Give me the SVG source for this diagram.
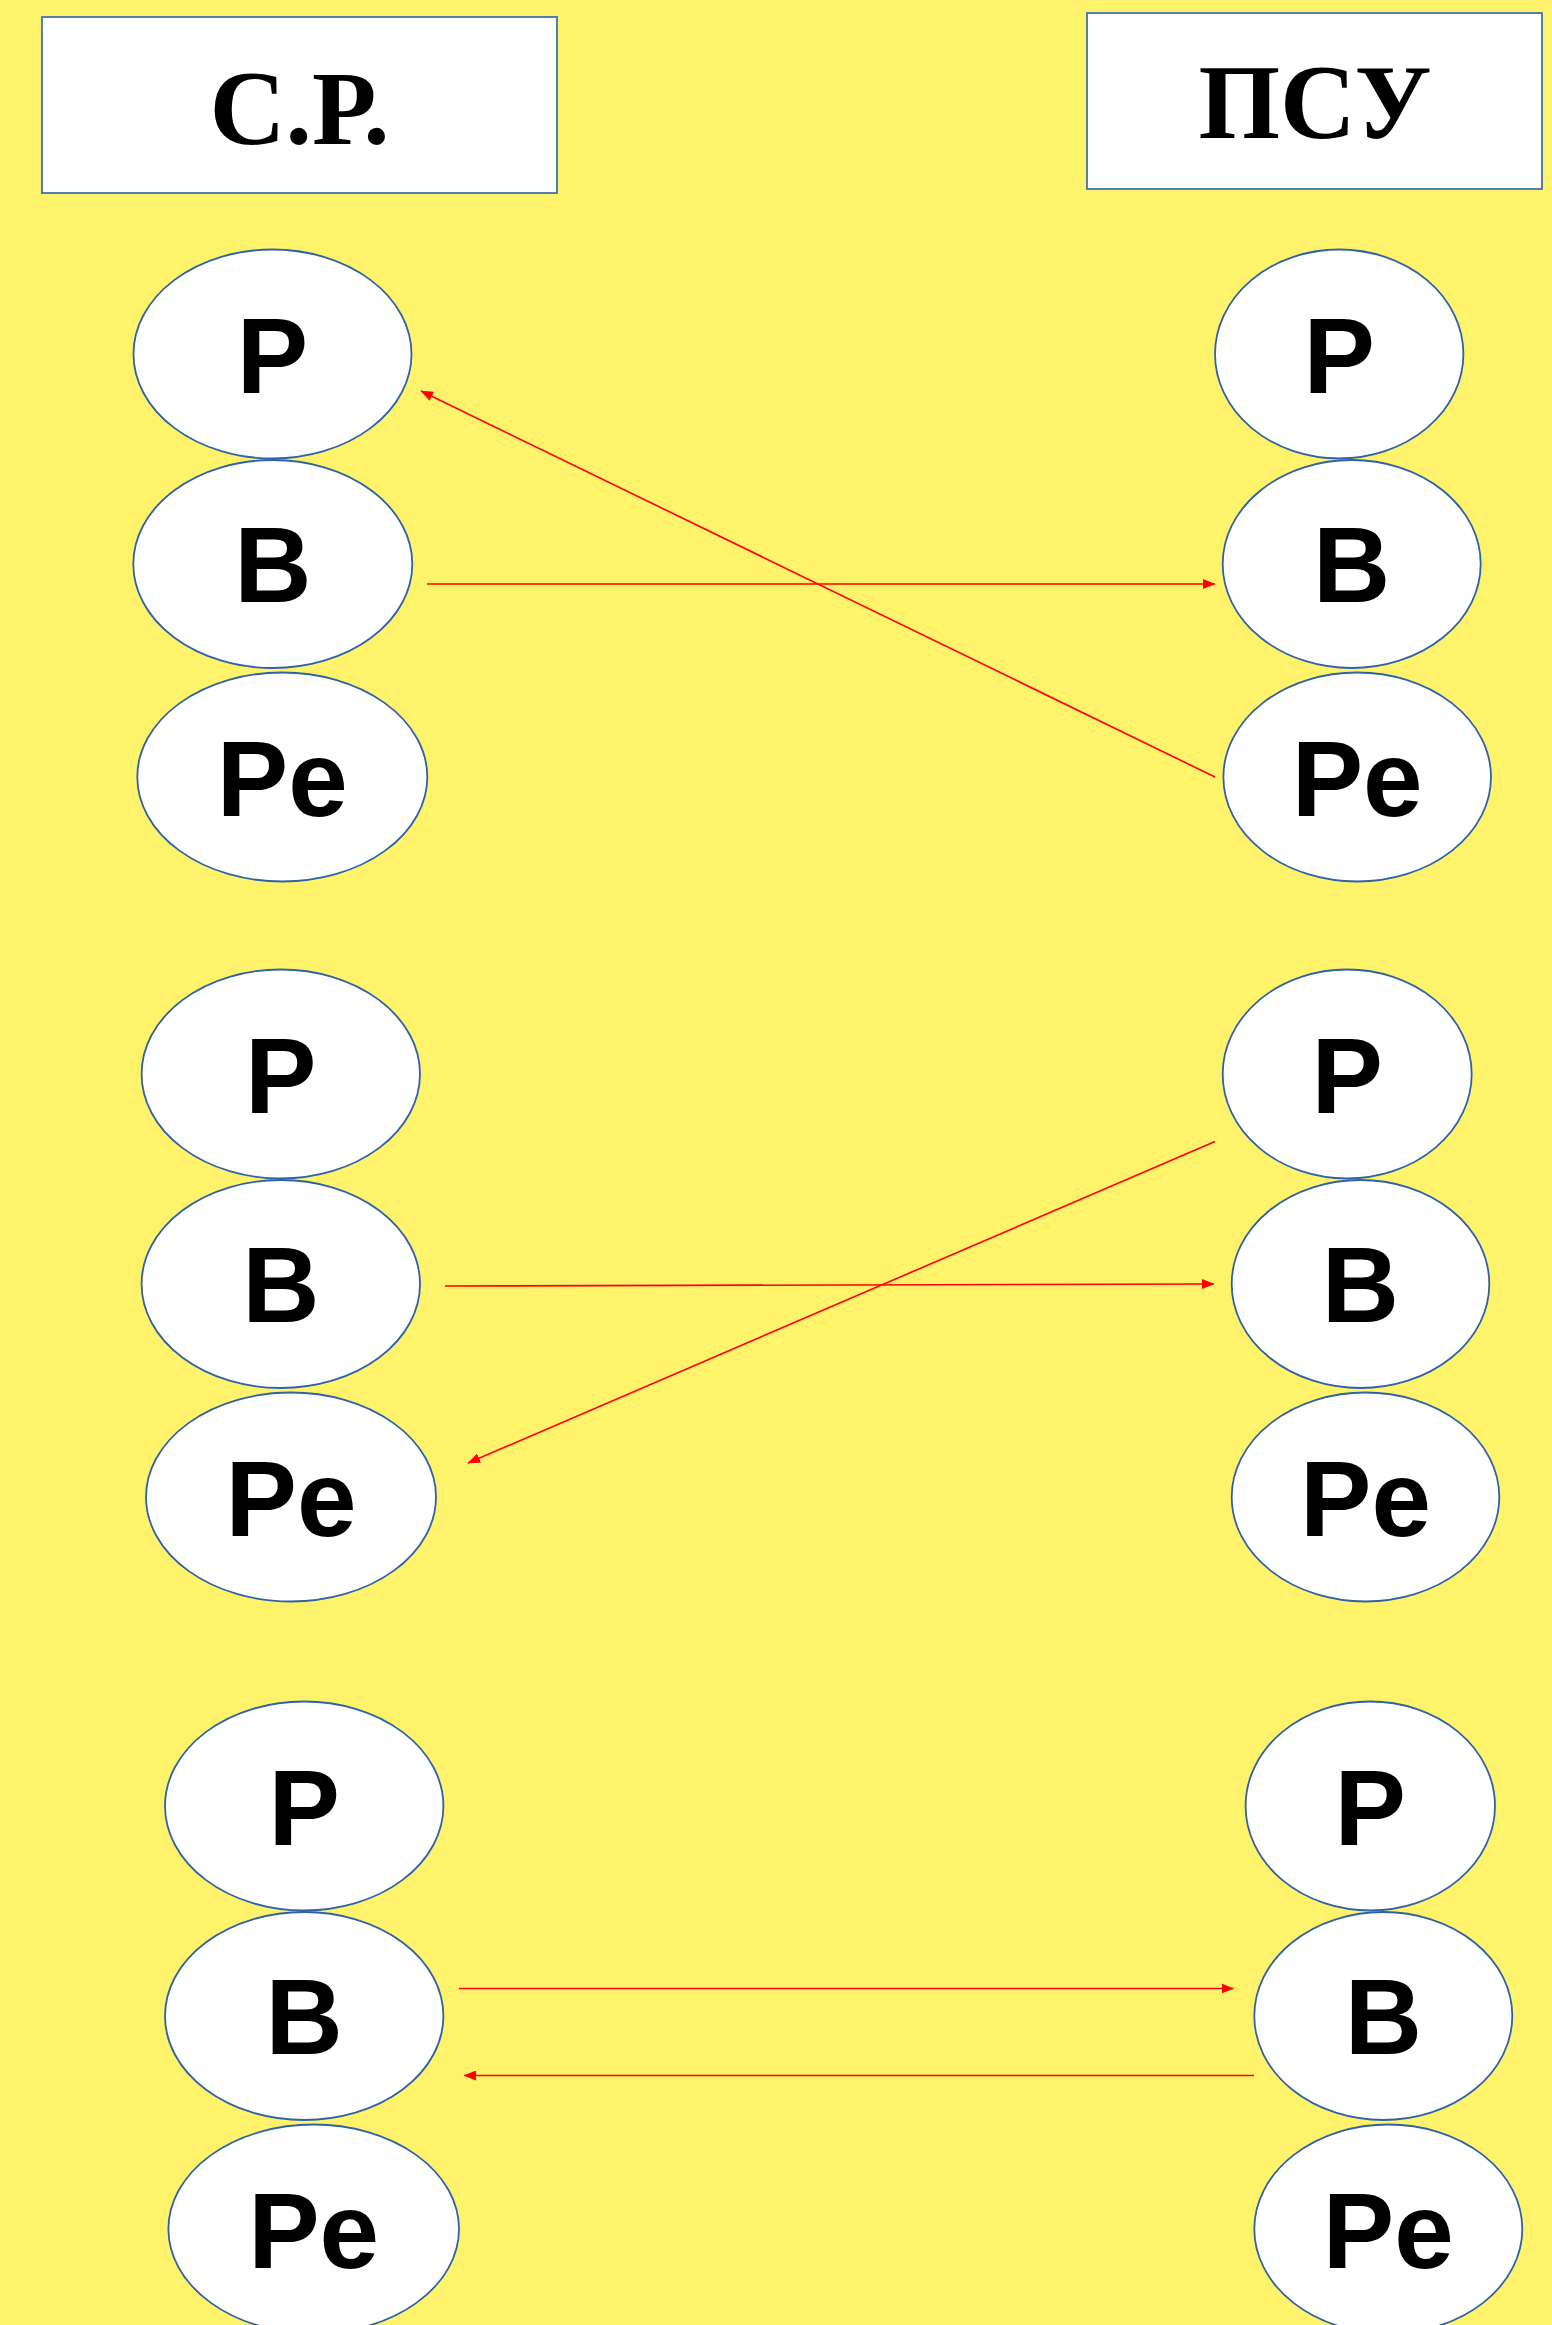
<svg xmlns="http://www.w3.org/2000/svg" width="1552" height="2325" viewBox="0 0 1552 2325">
<defs>
<style>
.hdr{fill:#ffffff;stroke:#4470ad;stroke-width:1.8}
.ht{font-family:"Liberation Serif","Times New Roman",serif;font-weight:bold;font-size:105px;fill:#000;text-anchor:middle}
.el{fill:#ffffff;stroke:#2f62a6;stroke-width:1.8}
.lt{font-family:"Liberation Sans",Arial,sans-serif;font-weight:bold;font-size:107px;fill:#000;text-anchor:middle}
.ar{stroke:#ff0000;stroke-width:1.6;fill:none;marker-end:url(#ah)}
</style>
<marker id="ah" markerUnits="userSpaceOnUse" markerWidth="13" markerHeight="10" refX="12" refY="5" orient="auto" viewBox="0 0 13 10">
<path d="M0,0 L12.5,5 L0,10 z" fill="#ff0000"/>
</marker>
</defs>
<rect x="0" y="0" width="1552" height="2325" fill="#fff36c"/>

<g id="header-sr">
<rect class="hdr" x="42" y="17" width="515" height="176"/>
<text class="ht" x="299.5" y="144" textLength="180" lengthAdjust="spacingAndGlyphs">С.Р.</text>
</g>
<g id="header-psu">
<rect class="hdr" x="1087" y="13" width="455" height="176"/>
<text class="ht" x="1315" y="138">ПСУ</text>
</g>

<!-- Group 1 -->
<g id="g1-l-p"><ellipse class="el" cx="272.5" cy="354" rx="139" ry="104.5"/><text class="lt" x="272.5" y="393">P</text></g>
<g id="g1-l-b"><ellipse class="el" cx="272.8" cy="564" rx="139.5" ry="104"/><text class="lt" x="272.8" y="602">B</text></g>
<g id="g1-l-pe"><ellipse class="el" cx="282.3" cy="777" rx="145" ry="104.5"/><text class="lt" x="282.3" y="816">Pe</text></g>
<g id="g1-r-p"><ellipse class="el" cx="1339.2" cy="354" rx="124.2" ry="104.5"/><text class="lt" x="1339.2" y="393">P</text></g>
<g id="g1-r-b"><ellipse class="el" cx="1351.7" cy="564" rx="129" ry="104"/><text class="lt" x="1351.7" y="602">B</text></g>
<g id="g1-r-pe"><ellipse class="el" cx="1357.2" cy="777" rx="133.8" ry="104.5"/><text class="lt" x="1357.2" y="816">Pe</text></g>

<!-- Group 2 -->
<g id="g2-l-p"><ellipse class="el" cx="280.8" cy="1074" rx="139.2" ry="104.5"/><text class="lt" x="280.8" y="1113">P</text></g>
<g id="g2-l-b"><ellipse class="el" cx="280.8" cy="1284" rx="139.2" ry="104"/><text class="lt" x="280.8" y="1322">B</text></g>
<g id="g2-l-pe"><ellipse class="el" cx="291" cy="1497" rx="145" ry="104.5"/><text class="lt" x="291" y="1536">Pe</text></g>
<g id="g2-r-p"><ellipse class="el" cx="1347.2" cy="1074" rx="124.5" ry="104.5"/><text class="lt" x="1347.2" y="1113">P</text></g>
<g id="g2-r-b"><ellipse class="el" cx="1360.5" cy="1284" rx="128.8" ry="104"/><text class="lt" x="1360.5" y="1322">B</text></g>
<g id="g2-r-pe"><ellipse class="el" cx="1365.5" cy="1497" rx="133.8" ry="104.5"/><text class="lt" x="1365.5" y="1536">Pe</text></g>

<!-- Group 3 -->
<g id="g3-l-p"><ellipse class="el" cx="304.2" cy="1806" rx="139.2" ry="104.5"/><text class="lt" x="304.2" y="1845">P</text></g>
<g id="g3-l-b"><ellipse class="el" cx="304.2" cy="2016" rx="139.2" ry="104"/><text class="lt" x="304.2" y="2054">B</text></g>
<g id="g3-l-pe"><ellipse class="el" cx="313.7" cy="2229" rx="145.3" ry="104.5"/><text class="lt" x="313.7" y="2268">Pe</text></g>
<g id="g3-r-p"><ellipse class="el" cx="1370.3" cy="1806" rx="124.7" ry="104.5"/><text class="lt" x="1370.3" y="1845">P</text></g>
<g id="g3-r-b"><ellipse class="el" cx="1383.3" cy="2016" rx="129" ry="104"/><text class="lt" x="1383.3" y="2054">B</text></g>
<g id="g3-r-pe"><ellipse class="el" cx="1388.3" cy="2229" rx="134" ry="104.5"/><text class="lt" x="1388.3" y="2268">Pe</text></g>

<g id="connectors">
<line class="ar" x1="1215" y1="777" x2="421" y2="391"/>
<line class="ar" x1="427" y1="584" x2="1215" y2="584"/>
<line class="ar" x1="445" y1="1286" x2="1214" y2="1284"/>
<line class="ar" x1="1215" y1="1141.5" x2="468" y2="1463"/>
<line class="ar" x1="459" y1="1988.5" x2="1233.5" y2="1988.5"/>
<line class="ar" x1="1254" y1="2075.5" x2="464" y2="2075.5"/>
</g>
</svg>
